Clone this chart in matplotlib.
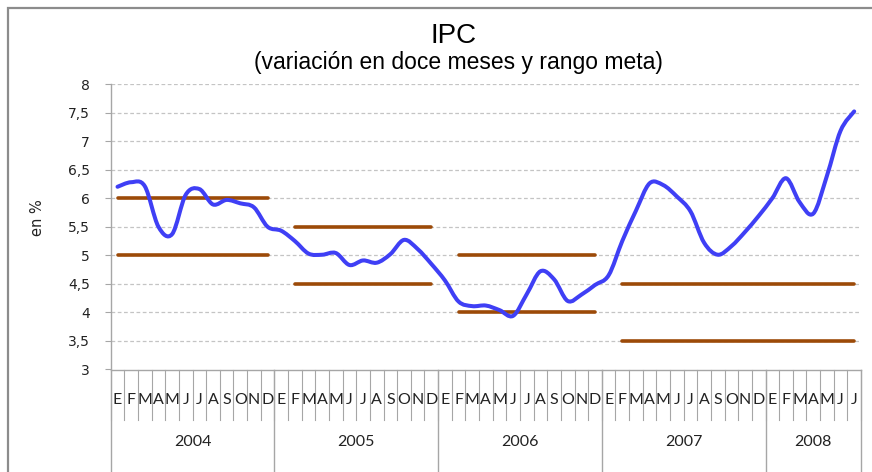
import numpy as np
import matplotlib.pyplot as plt
from matplotlib.path import Path
from matplotlib.patches import PathPatch, Rectangle

# IPC, variacion anual (%) ene-2004 .. jul-2008
ipc_2004 = [6.20, 6.28, 6.21, 5.50, 5.37, 6.06, 6.16, 5.89, 5.97, 5.91, 5.84, 5.50]
ipc_2005 = [5.43, 5.25, 5.03, 5.01, 5.04, 4.83, 4.91, 4.87, 5.02, 5.27, 5.11, 4.85]
ipc_2006 = [4.56, 4.19, 4.11, 4.12, 4.04, 3.94, 4.32, 4.72, 4.58, 4.20, 4.31, 4.48]
ipc_2007 = [4.65, 5.25, 5.78, 6.26, 6.23, 6.03, 5.77, 5.22, 5.01, 5.16, 5.41, 5.69]
ipc_2008 = [6.00, 6.35, 5.93, 5.73, 6.39, 7.18, 7.52]

# rango meta (None = sin dato, deja el hueco entre años)
n = None
meta_inf = ([5] * 12 +
            [n] + [4.5] * 11 +
            [n] + [4] * 11 +
            [n] + [3.5] * 11 +
            [3.5] * 7)
meta_sup = ([6] * 12 +
            [n] + [5.5] * 11 +
            [n] + [5] * 11 +
            [n] + [4.5] * 11 +
            [4.5] * 7)

meses = ['E', 'F', 'M', 'A', 'M', 'J', 'J', 'A', 'S', 'O', 'N', 'D']
anios = ['2004', '2005', '2006', '2007', '2008']
meses_por_anio = [12, 12, 12, 12, 7]

y_ticks = [3, 3.5, 4, 4.5, 5, 5.5, 6, 6.5, 7, 7.5, 8]
y_labels = ['3', '3,5', '4', '4,5', '5', '5,5', '6', '6,5', '7', '7,5', '8']

BLUE = '#3f3ff5'
BROWN = '#9c4a08'
GRAY = '#a6a6a6'

ipc = np.array(ipc_2004 + ipc_2005 + ipc_2006 + ipc_2007 + ipc_2008)
x = np.arange(len(ipc))
etiquetas = []
for k, a in enumerate(anios):
    etiquetas += meses[:meses_por_anio[k]]


def smooth_path(xs, ys):
    # curva suavizada tipo Excel (bezier por tramos que pasa por cada punto)
    pts = np.column_stack([xs, ys])
    verts = [pts[0]]
    codes = [Path.MOVETO]
    for i in range(len(pts) - 1):
        p0 = pts[i - 1] if i > 0 else pts[i]
        p1 = pts[i]
        p2 = pts[i + 1]
        p3 = pts[i + 2] if i + 2 < len(pts) else pts[i + 1]
        verts += [p1 + (p2 - p0) / 6, p2 - (p3 - p1) / 6, p2]
        codes += [Path.CURVE4] * 3
    return Path(verts, codes)


fig = plt.figure(figsize=(8.72, 4.72), dpi=100)
ax = fig.add_axes([110.7 / 872, 1 - 369.5 / 472, (861 - 110.7) / 872, 285.5 / 472])

# grid punteado
for v in y_ticks[1:]:
    ax.axhline(v, color='#c4c4c4', lw=0.9, dashes=(3, 2), zorder=0)

# rango meta
inf = np.array([np.nan if v is None else v for v in meta_inf])
sup = np.array([np.nan if v is None else v for v in meta_sup])
ax.plot(x, inf, color=BROWN, lw=2.6, solid_capstyle='round', zorder=2)
ax.plot(x, sup, color=BROWN, lw=2.6, solid_capstyle='round', zorder=2)

# IPC
ax.add_patch(PathPatch(smooth_path(x, ipc), fill=False, edgecolor=BLUE, lw=2.9,
                       capstyle='round', joinstyle='round', zorder=3))

ax.set_xlim(-0.5, len(ipc) - 0.5)
ax.set_ylim(3, 8)
ax.set_yticks(y_ticks)
ax.set_yticklabels(y_labels, fontsize=10, family='DejaVu Sans', color='#222222')
ax.tick_params(axis='y', direction='out', length=4, color=GRAY, pad=11)
ax.set_xticks([])
for s in ['top', 'right']:
    ax.spines[s].set_visible(False)
for s in ['left', 'bottom']:
    ax.spines[s].set_color(GRAY)
    ax.spines[s].set_linewidth(1)

# eje de categorias en dos niveles
tr = ax.get_xaxis_transform()
for k in range(len(ipc) + 1):
    ax.plot([k - 0.5, k - 0.5], [0, -50 / 285.5], transform=tr, color=GRAY,
            lw=0.8, clip_on=False)
for xi, m in zip(x, etiquetas):
    ax.text(xi, -31 / 285.5, m, transform=tr, ha='center', va='center',
            fontsize=11.5, family='Lato', color='#222222')
limites = np.concatenate([[0], np.cumsum(meses_por_anio)]) - 0.5
for b in limites:
    ax.plot([b, b], [0, -0.6], transform=tr, color=GRAY, lw=1, clip_on=False)
for k, a in enumerate(anios):
    ax.text((limites[k] + limites[k + 1]) / 2, -72 / 285.5, a, transform=tr,
            ha='center', va='center', fontsize=11.5, family='Lato', color='#222222')

# titulos
fig.text(454 / 872, 1 - 36 / 472, 'IPC', ha='center', va='center',
         fontsize=20, family='Liberation Sans')
fig.text(458 / 872, 1 - 62 / 472, '(variación en doce meses y rango meta)',
         ha='center', va='center', fontsize=16.5, family='Liberation Sans')
fig.text(37 / 872, 1 - 218 / 472, 'en %', rotation=90, ha='center', va='center',
         fontsize=10.5, family='DejaVu Sans', color='#222222')

# marco exterior del grafico
fig.patches.append(Rectangle((8 / 872, -0.1), 1.2, 1.1 - 8 / 472,
                             transform=fig.transFigure, fill=False,
                             edgecolor='#8c8c8c', lw=1.6))

fig.savefig('out.png', dpi=100)
